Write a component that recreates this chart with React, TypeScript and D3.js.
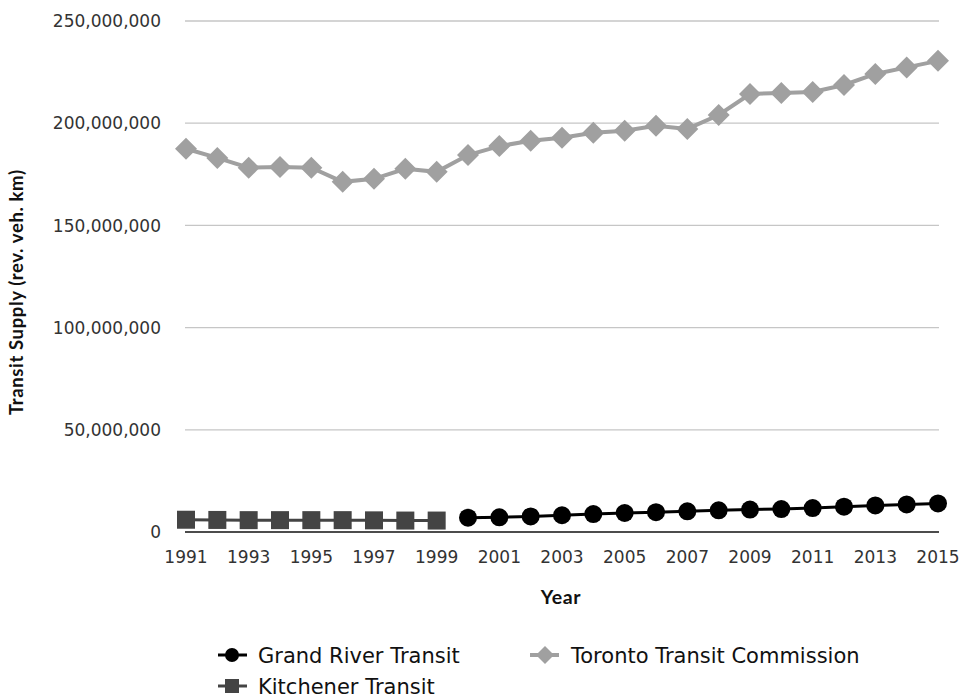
import * as d3 from "d3";

const years = d3.range(1991, 2016);

const grtYears = [2000, 2001, 2002, 2003, 2004, 2005, 2006, 2007, 2008, 2009, 2010, 2011, 2012, 2013, 2014, 2015];
const grtValues = [7.0, 7.2, 7.6, 8.2, 8.8, 9.3, 9.7, 10.1, 10.6, 11.0, 11.2, 11.7, 12.4, 13.0, 13.5, 14.0].map((v) => v * 1e6);

const kitchenerYears = [1991, 1992, 1993, 1994, 1995, 1996, 1997, 1998, 1999];
const kitchenerValues = [6.0, 5.9, 5.8, 5.8, 5.8, 5.8, 5.7, 5.6, 5.6].map((v) => v * 1e6);

const ttcYears = years;
const ttcValues = [
  187.5, 183.0, 178.2, 178.6, 178.2, 171.3, 172.8, 177.7, 176.2, 184.4, 188.8, 191.4,
  192.9, 195.3, 196.3, 198.7, 197.2, 204.0, 214.3, 214.8, 215.3, 218.7, 224.1, 227.3, 230.5,
].map((v) => v * 1e6);

const yTicks = [0, 50e6, 100e6, 150e6, 200e6, 250e6];
const xTicks = d3.range(1991, 2016, 2);

const TICK_FONT = "'DejaVu Sans', sans-serif";
const TITLE_FONT = "Lato, sans-serif";

export default function App() {
  const width = 965;
  const height = 698;
  const left = 185;
  const right = 939;
  const top = 21;
  const bottom = 532;

  const x = d3.scaleLinear().domain([1991, 2015]).range([left + 1, right - 1]);
  const y = d3.scaleLinear().domain([0, 250e6]).range([bottom, top]);
  const fmt = d3.format(",");

  const line = d3
    .line<[number, number]>()
    .x((d) => x(d[0]))
    .y((d) => y(d[1]));

  const grt = grtYears.map((yr, i) => [yr, grtValues[i]] as [number, number]);
  const kit = kitchenerYears.map((yr, i) => [yr, kitchenerValues[i]] as [number, number]);
  const ttc = ttcYears.map((yr, i) => [yr, ttcValues[i]] as [number, number]);

  const diamond = (cx: number, cy: number, r: number) =>
    `M${cx},${cy - r}L${cx + r},${cy}L${cx},${cy + r}L${cx - r},${cy}Z`;

  return (
    <svg width={width} height={height} style={{ position: "absolute", left: 0, top: 0 }}>
      <rect width={width} height={height} fill="#fff" />
      {/* gridlines + ticks */}
      <g fontFamily={TICK_FONT} fontSize={17} fill="#333">
        {yTicks.map((t) => (
          <g key={t}>
            {t > 0 && <line x1={left} x2={right} y1={y(t)} y2={y(t)} stroke="#c6c6c6" strokeWidth={1.3} />}
            <text x={161} y={y(t)} dy="0.36em" textAnchor="end">
              {fmt(t)}
            </text>
          </g>
        ))}
        {xTicks.map((t) => (
          <text key={t} x={x(t)} y={563} textAnchor="middle">
            {t}
          </text>
        ))}
      </g>
      <line x1={left} x2={right} y1={bottom} y2={bottom} stroke="#111" strokeWidth={1.5} />
      <text
        x={561}
        y={604}
        textAnchor="middle"
        fontFamily={TITLE_FONT}
        fontSize={19.5}
        fontWeight="bold"
        fill="#111"
        letterSpacing={0.6}
      >
        Year
      </text>
      <text
        transform={`translate(23,${(top + bottom) / 2 + 16}) rotate(-90)`}
        textAnchor="middle"
        fontFamily={TITLE_FONT}
        fontSize={18.5}
        fontWeight="bold"
        fill="#111"
        textLength={245}
        lengthAdjust="spacing"
      >
        Transit Supply (rev. veh. km)
      </text>

      {/* Toronto */}
      <path d={line(ttc) ?? ""} fill="none" stroke="#a0a0a0" strokeWidth={4} />
      {ttc.map((d) => (
        <path key={d[0]} d={diamond(x(d[0]), y(d[1]), 11)} fill="#a0a0a0" />
      ))}

      {/* Kitchener */}
      <path d={line(kit) ?? ""} fill="none" stroke="#444" strokeWidth={3} />
      {kit.map((d) => (
        <rect key={d[0]} x={x(d[0]) - 9} y={y(d[1]) - 9} width={18} height={18} fill="#444" />
      ))}

      {/* Grand River */}
      <path d={line(grt) ?? ""} fill="none" stroke="#000" strokeWidth={3} />
      {grt.map((d) => (
        <circle key={d[0]} cx={x(d[0])} cy={y(d[1])} r={9} fill="#000" />
      ))}

      {/* legend */}
      <g fontFamily={TICK_FONT} fontSize={21} fill="#111">
        <line x1={218} x2={247} y1={655} y2={655} stroke="#000" strokeWidth={3} />
        <circle cx={232} cy={655} r={7} fill="#000" />
        <text x={258} y={655} dy="0.36em">Grand River Transit</text>

        <line x1={530} x2={559} y1={655} y2={655} stroke="#a0a0a0" strokeWidth={4} />
        <path d={diamond(545, 655, 9)} fill="#a0a0a0" />
        <text x={571} y={655} dy="0.36em">Toronto Transit Commission</text>

        <line x1={218} x2={247} y1={686} y2={686} stroke="#444" strokeWidth={3} />
        <rect x={225} y={679} width={14} height={14} fill="#444" />
        <text x={258} y={686} dy="0.36em">Kitchener Transit</text>
      </g>
    </svg>
  );
}
